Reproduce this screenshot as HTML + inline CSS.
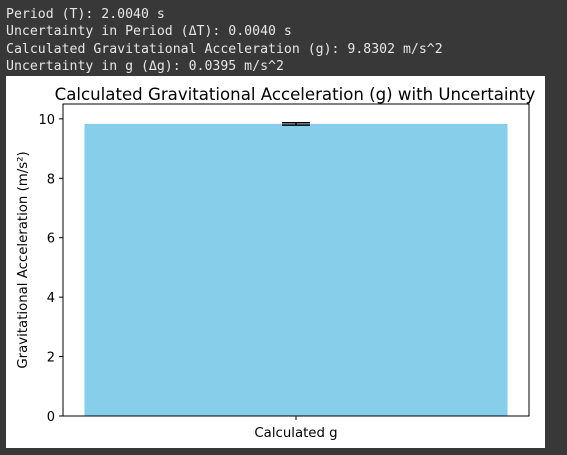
<!DOCTYPE html>
<html><head><meta charset="utf-8"><style>
body{margin:0;width:567px;height:455px;background:#383838;overflow:hidden;position:relative}
.out{position:absolute;left:6px;font-family:"DejaVu Sans Mono","Liberation Mono",monospace;font-size:13.2px;color:#e6e6e6;white-space:pre}
#panel{position:absolute;left:6px;top:76px;width:539px;height:372px;background:#fff}
</style></head><body>
<div class="out" style="top:7px">Period (T): 2.0040 s</div>
<div class="out" style="top:24px">Uncertainty in Period (ΔT): 0.0040 s</div>
<div class="out" style="top:42px">Calculated Gravitational Acceleration (g): 9.8302 m/s^2</div>
<div class="out" style="top:59px">Uncertainty in g (Δg): 0.0395 m/s^2</div>
<div id="panel"></div>
<svg id="chart" width="567" height="455" style="position:absolute;left:0;top:0" font-family="DejaVu Sans, Liberation Sans, sans-serif"></svg>
<script>
const categories=["Calculated g"];
const values=[9.8302];
const errors=[0.0395];
const yTicks=[0,2,4,6,8,10];
const ns="http://www.w3.org/2000/svg";
const svg=document.getElementById('chart');
const L=63,R=529,T=104,B=416,yMax=10.5;
function y(v){return B-(v/yMax)*(B-T);}
const slotW=(R-L)/categories.length;
function xc(i){return L+slotW*(i+0.5);}
function el(t,a,txt){const e=document.createElementNS(ns,t);for(const k in a)e.setAttribute(k,a[k]);if(txt!==undefined)e.textContent=txt;svg.appendChild(e);return e;}
categories.forEach((c,i)=>{
 const w=slotW*0.908;
 const b=el('rect',{x:xc(i)-w/2,y:y(values[i]),width:w,height:B-y(values[i]),fill:'#87ceeb'});
 
 
 const hi=y(values[i]+errors[i]),lo=y(values[i]-errors[i]);
 const e1=el('line',{x1:xc(i),x2:xc(i),y1:hi,y2:lo,stroke:'#000','stroke-width':1.5});
 
 
 [hi,lo].forEach(yy=>{const cap=el('line',{x1:xc(i)-14,x2:xc(i)+14,y1:yy,y2:yy,stroke:'#000','stroke-width':1.5});
 
 });
 const tk=el('line',{x1:xc(i),x2:xc(i),y1:B,y2:B+4,stroke:'#000'});
 
 
 const lb=el('text',{x:xc(i),y:B+21,'text-anchor':'middle','font-size':13.3},c);
 
 
});
yTicks.forEach(v=>{
 const t=el('line',{x1:L-4,x2:L,y1:y(v),y2:y(v),stroke:'#000'});
 
 
 const l=el('text',{x:L-8,y:y(v)+5,'text-anchor':'end','font-size':13},String(v));
 
 
});
const fr=el('rect',{x:L,y:T,width:R-L,height:B-T,fill:'none',stroke:'#000','stroke-width':1});


const ti=el('text',{x:295,y:100,'text-anchor':'middle','font-size':16.6},'Calculated Gravitational Acceleration (g) with Uncertainty');


const yt=el('text',{x:0,y:0,'text-anchor':'middle','font-size':13.3,transform:`translate(27,${(T+B)/2}) rotate(-90)`},'Gravitational Acceleration (m/s²)');


</script>
</body></html>
